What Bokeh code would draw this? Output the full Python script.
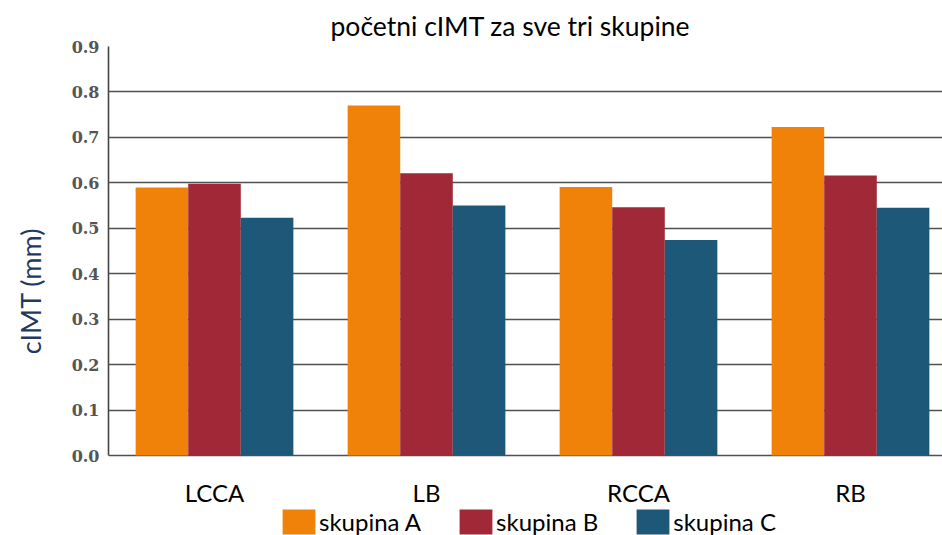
from bokeh.plotting import figure
from bokeh.models import Range1d, Legend, LegendItem, FixedTicker, PrintfTickFormatter, ColumnDataSource
from bokeh.core.properties import value
from bokeh.embed import file_html
from bokeh.resources import INLINE

categories = ["LCCA", "LB", "RCCA", "RB"]
series_names = ["skupina A", "skupina B", "skupina C"]
skupina_a = [0.590, 0.770, 0.591, 0.723]
skupina_b = [0.598, 0.621, 0.546, 0.616]
skupina_c = [0.523, 0.550, 0.474, 0.545]
y_ticks = [0.0, 0.1, 0.2, 0.3, 0.4, 0.5, 0.6, 0.7, 0.8, 0.9]
colors = ["#F0820A", "#A02837", "#1D5878"]

W, H = 942, 535
TOP, LEFT = 46, 108
PX_PER_UNIT = 409 / 0.9          # plot area 409 px tall for 0..0.9
below_px = H - TOP - 409          # room under the zero line for labels and legend
y_start = -below_px / PX_PER_UNIT

p = figure(width=W, height=H, x_range=Range1d(0, 3.934), y_range=Range1d(y_start, 0.9),
           x_axis_location=None, output_backend="svg", toolbar_location=None,
           min_border_left=LEFT, min_border_right=0, min_border_top=TOP, min_border_bottom=0)
p.outline_line_color = None
p.background_fill_color = None

centers = [i + 0.5 for i in range(len(categories))]
bw = 0.248
offsets = [-bw, 0.0, bw]
renderers = []
for vals, off, col in zip([skupina_a, skupina_b, skupina_c], offsets, colors):
    r = p.vbar(x=[c + off for c in centers], top=vals, width=bw, bottom=0,
               fill_color=col, line_color=None)
    renderers.append(r)

# category labels under the zero line
lab_src = ColumnDataSource(dict(x=centers, y=[0.0] * len(centers), t=categories))
p.text(x="x", y="y", text="t", source=lab_src, y_offset=37,
       text_font=value("Lato"), text_font_size="24px", text_color="#000000",
       text_align="center", text_baseline="middle")

# grid (the 0.0 line doubles as the x axis line)
p.xgrid.visible = False
p.ygrid.ticker = FixedTicker(ticks=y_ticks)
p.ygrid.grid_line_color = "#505050"
p.ygrid.grid_line_width = 1.6

# y axis
p.yaxis.ticker = FixedTicker(ticks=y_ticks)
p.yaxis.bounds = (0, 0.9)
p.yaxis.formatter = PrintfTickFormatter(format="%.1f")
p.yaxis.major_label_text_font = "DejaVu Serif"
p.yaxis.major_label_text_font_style = "bold"
p.yaxis.major_label_text_font_size = "16px"
p.yaxis.major_label_text_color = "#555555"
p.yaxis.major_label_standoff = 9
p.yaxis.major_tick_out = 0
p.yaxis.major_tick_line_color = None
p.yaxis.minor_tick_line_color = None
p.yaxis.axis_line_color = "#444444"
p.yaxis.axis_line_width = 1.6
p.yaxis.axis_label = "cIMT (mm)"
p.yaxis.axis_label_text_font = "Lato"
p.yaxis.axis_label_text_font_size = "27px"
p.yaxis.axis_label_text_font_style = "normal"
p.yaxis.axis_label_text_color = "#1F3864"
p.yaxis.axis_label_standoff = 22

# title
p.title.text = "početni cIMT za sve tri skupine"
p.title.align = "left"
p.title.offset = 222
p.title.text_font = "Lato"
p.title.text_font_size = "26.5px"
p.title.text_font_style = "normal"
p.title.text_color = "#000000"
p.title.standoff = 10

legend = Legend(items=[LegendItem(label=n, renderers=[r]) for n, r in zip(series_names, renderers)],
                orientation="horizontal", location=(170, -2))
legend.border_line_color = None
legend.background_fill_alpha = 0
legend.padding = 0
legend.margin = 0
legend.spacing = 34
legend.label_standoff = 0
legend.glyph_width = 41
legend.glyph_height = 31
legend.label_text_font = "Lato"
legend.label_text_font_size = "24px"
legend.label_text_color = "#000000"
p.add_layout(legend)

open("out.html", "w").write(file_html(p, INLINE))
